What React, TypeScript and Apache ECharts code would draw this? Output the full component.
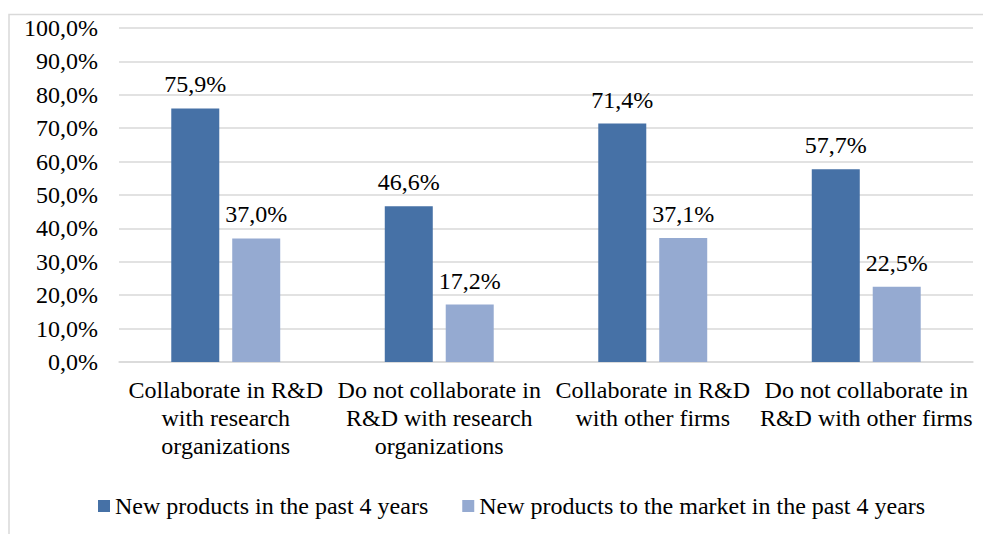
import React, { useEffect, useRef } from "react";
import * as echarts from "echarts";

const categories = [
  "Collaborate in R&D\nwith research\norganizations",
  "Do not collaborate in\nR&D with research\norganizations",
  "Collaborate in R&D\nwith other firms",
  "Do not collaborate in\nR&D with other firms",
];
const seriesNames = [
  "New products in the past 4 years",
  "New products to the market in the past 4 years",
];
const newProducts = [75.9, 46.6, 71.4, 57.7];
const newToMarket = [37.0, 17.2, 37.1, 22.5];
const colors = ["#4671a6", "#95aad1"];

const FONT = "Times New Roman, Liberation Serif, serif";
const FS = 24;
const fmt = (v: number) => v.toFixed(1).replace(".", ",") + "%";

export default function App() {
  const ref = useRef<HTMLDivElement>(null);
  useEffect(() => {
    if (!ref.current) return;
    const chart = echarts.init(ref.current, undefined, { renderer: "svg" });
    const label = {
      show: true,
      position: "top" as const,
      distance: 12,
      fontFamily: FONT,
      fontSize: FS,
      color: "#000",
      formatter: (p: any) => fmt(p.value),
    };
    chart.setOption({
      animation: false,
      textStyle: { fontFamily: FONT },
      graphic: [
        {
          type: "rect",
          shape: { x: 1, y: 6.5, width: 1100, height: 700 },
          style: { fill: "none", stroke: "#d9d9d9", lineWidth: 1.5 },
          silent: true,
        },
      ],
      grid: { left: 111, right: 18, top: 20, bottom: 172, containLabel: false },
      legend: {
        left: 85,
        top: 481,
        icon: "rect",
        itemWidth: 12,
        itemHeight: 12,
        itemGap: 34,
        textStyle: { fontFamily: FONT, fontSize: FS, color: "#000" },
        data: seriesNames,
      },
      xAxis: {
        type: "category",
        data: categories,
        axisLine: { lineStyle: { color: "#d9d9d9", width: 1.5 } },
        axisTick: { show: false },
        axisLabel: {
          interval: 0,
          margin: 14,
          fontFamily: FONT,
          fontSize: FS,
          lineHeight: 28,
          color: "#000",
          align: "center",
        },
      },
      yAxis: {
        type: "value",
        min: 0,
        max: 100,
        interval: 10,
        axisLine: { show: false },
        axisTick: { show: false },
        splitLine: { lineStyle: { color: "#d9d9d9", width: 1.5 } },
        axisLabel: {
          margin: 21,
          fontFamily: FONT,
          fontSize: FS,
          color: "#000",
          formatter: (v: number) => fmt(v),
        },
      },
      series: [
        {
          name: seriesNames[0],
          type: "bar",
          data: newProducts,
          barWidth: 48,
          barGap: "27%",
          itemStyle: { color: colors[0] },
          label,
        },
        {
          name: seriesNames[1],
          type: "bar",
          data: newToMarket,
          barWidth: 48,
          barGap: "27%",
          itemStyle: { color: colors[1] },
          label,
        },
      ],
    });
    return () => chart.dispose();
  }, []);
  return <div ref={ref} style={{ width: 983, height: 526 }} />;
}
